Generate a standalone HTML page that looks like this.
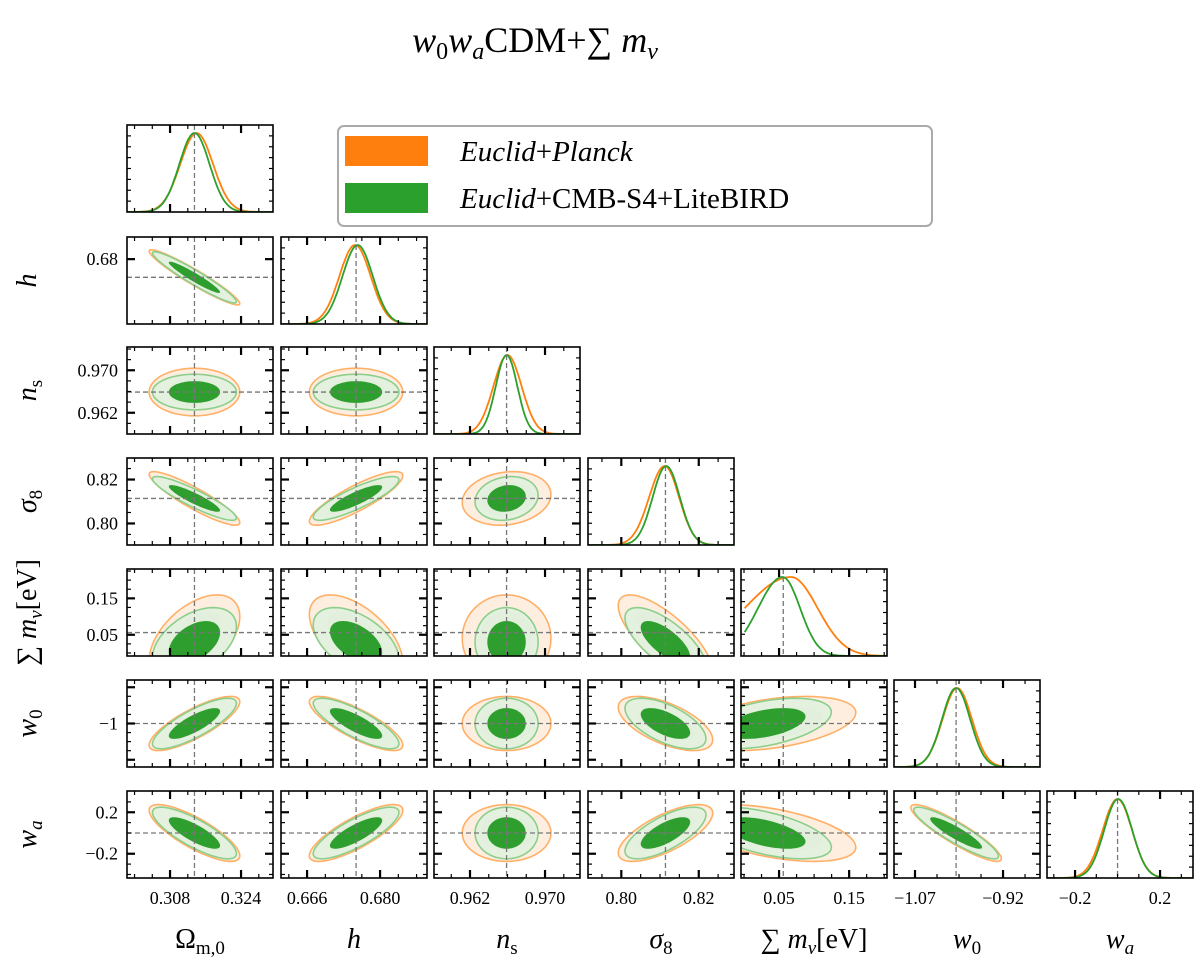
<!DOCTYPE html>
<html><head><meta charset="utf-8">
<style>
body{margin:0;background:#fff;}
svg{display:block;font-family:"Liberation Serif",serif;}
</style></head>
<body>
<svg id="chart" width="1200" height="970" viewBox="0 0 1200 970" xmlns="http://www.w3.org/2000/svg">
<defs></defs>
<text x="535" y="52" font-size="36" text-anchor="middle"><tspan font-style="italic">w</tspan><tspan font-size="24" dy="7">0</tspan><tspan font-style="italic" dy="-7">w</tspan><tspan font-size="24" font-style="italic" dy="7">a</tspan><tspan dy="-7">CDM+∑ </tspan><tspan font-style="italic">m</tspan><tspan font-size="24" font-style="italic" dy="7">ν</tspan></text>
<g>
<rect x="338" y="126" width="594" height="100" rx="6" fill="#fff" stroke="#aaa" stroke-width="2"/>
<rect x="345" y="136" width="83" height="30" fill="#ff7f0e"/>
<rect x="345" y="183" width="83" height="30" fill="#2ca02c"/>
<text x="460" y="161" font-size="29"><tspan font-style="italic">Euclid</tspan>+<tspan font-style="italic">Planck</tspan></text>
<text x="460" y="208" font-size="29"><tspan font-style="italic">Euclid</tspan>+CMB-S4+LiteBIRD</text>
</g>
</svg>
<script>
const paramNames = ["Om","h","ns","s8","mnu","w0","wa"];
const xLo = [0.2983,0.6610,0.95816,0.7914,-0.0043,-1.1058,-0.332];
const xHi = [0.3312,0.6890,0.97373,0.8291,0.204,-0.857,0.355];
const yLo = [0,0.6636,0.9580,0.7902,-0.0083,-1.12,-0.434];
const yHi = [1,0.6856,0.97438,0.8298,0.2306,-0.88,0.405];
const fiducial = [0.3135,0.6754,0.9659,0.8114,0.056,-1.0,0.0];
// 1D marginals
const mean1G = [0.3135,0.6757,0.9659,0.8116,0.055,-1.0,0.003];
const mean1O = [0.3140,0.6752,0.9660,0.8112,0.067,-0.998,0.0];
const sig1GLeft = [0.0034,0.0029,0.00115,0.0035,0.035,0.024,0.066];
const sig1GRight = [0.0034,0.0029,0.00115,0.0035,0.025,0.024,0.066];
const sig1OLeft = [0.0037,0.0030,0.0015,0.0040,0.066,0.025,0.070];
const sig1ORight = [0.0037,0.0030,0.0015,0.0037,0.038,0.025,0.068];
// 2D contours
const mean2G = [0.3135,0.6754,0.9659,0.8114,0.030,-1.0,0.0];
const mean2O = [0.3135,0.6754,0.9659,0.8114,0.040,-1.0,0.0];
const sig2xG = [0.0038,0.0033,0.00135,0.0042,0.038,0.029,0.075];
const sig2xO = [0.0041,0.0036,0.0019,0.0049,0.048,0.031,0.080];
const sig2yG = [0.0038,0.0026,0.00135,0.0040,0.038,0.028,0.100];
const sig2yO = [0.0041,0.0028,0.0018,0.0049,0.048,0.030,0.110];
const corrGreen = [
 [1,-0.95,0,-0.9,0.45,0.8,-0.8],
 [-0.95,1,0,0.85,-0.5,-0.8,0.8],
 [0,0,1,0.15,0,0,0],
 [-0.9,0.85,0.15,1,-0.7,-0.6,0.7],
 [0.45,-0.5,0,-0.7,1,0.45,-0.55],
 [0.8,-0.8,0,-0.6,0.45,1,-0.9],
 [-0.8,0.8,0,0.7,-0.55,-0.9,1]];
const corrOrange = [
 [1,-0.95,0,-0.9,0.5,0.8,-0.8],
 [-0.95,1,0,0.85,-0.55,-0.8,0.8],
 [0,0,1,0.15,0,0,0],
 [-0.9,0.85,0.15,1,-0.75,-0.6,0.7],
 [0.5,-0.55,0,-0.75,1,0.4,-0.5],
 [0.8,-0.8,0,-0.6,0.4,1,-0.9],
 [-0.8,0.8,0,0.7,-0.5,-0.9,1]];
const xTickVals = [[0.308,0.324],[0.666,0.680],[0.962,0.970],[0.80,0.82],[0.05,0.15],[-1.07,-0.92],[-0.2,0.2]];
const xTickLabels = [["0.308","0.324"],["0.666","0.680"],["0.962","0.970"],["0.80","0.82"],["0.05","0.15"],["−1.07","−0.92"],["−0.2","0.2"]];
const yTickVals = [[],[0.68],[0.970,0.962],[0.82,0.80],[0.15,0.05],[-1],[0.2,-0.2]];
const yTickLabels = [[],["0.68"],["0.970","0.962"],["0.82","0.80"],["0.15","0.05"],["−1"],["0.2","−0.2"]];

const colX=[127,281,434,588,741,894,1047], rowY=[125,237,347,458,569,680,791], PW=146, PH=87;
const NS="http://www.w3.org/2000/svg";
const svg=document.getElementById('chart');
const defs=svg.querySelector('defs');
function mk(tag,attrs,parent){const e=document.createElementNS(NS,tag);for(const k in attrs)e.setAttribute(k,attrs[k]);(parent||svg).appendChild(e);return e;}
function xs(p,v,c){return colX[c]+(v-xLo[p])/(xHi[p]-xLo[p])*PW;}
function ys(p,v,r){return rowY[r]+PH-(v-yLo[p])/(yHi[p]-yLo[p])*PH;}

function ticks(g,i,j){
  const x0=colX[j],y0=rowY[i];
  const xv=xTickVals[j];const st=xv[1]-xv[0];const sub=st/4;
  for(let v=xv[0]-8*sub;v<=xv[1]+8*sub;v+=sub){
    const x=xs(j,v,j); if(x<x0+1||x>x0+PW-1)continue;
    const q=(v-xv[0])/st; const maj=Math.abs(q-Math.round(q))<1e-6;
    const L=maj?8:4,w=maj?2.2:1.2;
    mk('line',{x1:x,x2:x,y1:y0,y2:y0+L,stroke:'#000','stroke-width':w},g);
    mk('line',{x1:x,x2:x,y1:y0+PH,y2:y0+PH-L,stroke:'#000','stroke-width':w},g);
  }
  if(i===j||yTickVals[i].length===0){
    for(let k=1;k<8;k++){const y=y0+k*PH/8;
      mk('line',{x1:x0,x2:x0+4,y1:y,y2:y,stroke:'#000','stroke-width':1.2},g);
      mk('line',{x1:x0+PW,x2:x0+PW-4,y1:y,y2:y,stroke:'#000','stroke-width':1.2},g);}
    return;
  }
  const yv=yTickVals[i];
  let yst = yv.length>1? Math.abs(yv[0]-yv[1]) : 0.1;
  const ysub=yst/4; const base=yv[0];
  for(let v=base-12*ysub;v<=base+12*ysub;v+=ysub){
    const y=ys(i,v,i); if(y<y0+1||y>y0+PH-1)continue;
    const q=Math.abs((v-base)/yst); const maj=Math.abs(q-Math.round(q))<1e-6;
    const L=maj?8:4,w=maj?2.2:1.2;
    mk('line',{x1:x0,x2:x0+L,y1:y,y2:y,stroke:'#000','stroke-width':w},g);
    mk('line',{x1:x0+PW,x2:x0+PW-L,y1:y,y2:y,stroke:'#000','stroke-width':w},g);
  }
}

function ellipse(g,i,j,mx,my,sx,sy,rho,r,fill,stroke){
  const cx=xs(j,mx,j),cy=ys(i,my,i);
  const Sx=sx/(xHi[j]-xLo[j])*PW, Sy=sy/(yHi[i]-yLo[i])*PH;
  const rp=-rho; const q=Math.sqrt(1-rho*rho);
  let d='';
  for(let k=0;k<=72;k++){const t=k/72*2*Math.PI;
    const x=cx+r*Sx*Math.cos(t), y=cy+r*(rp*Sy*Math.cos(t)+Sy*q*Math.sin(t));
    d+=(k?'L':'M')+x.toFixed(1)+','+y.toFixed(1);}
  return mk('path',{d:d+'Z',fill:fill,stroke:stroke,'stroke-width':1.6},g);
}

for(let i=0;i<7;i++){
  for(let j=0;j<=i;j++){
    const g=mk('g',{});
    
    
    const cid='clip'+i+'_'+j;
    const cp=mk('clipPath',{id:cid},defs);
    mk('rect',{x:colX[j],y:rowY[i],width:PW,height:PH},cp);
    const inner=mk('g',{'clip-path':'url(#'+cid+')'},g);
    if(i===j){
      const xf=xs(j,fiducial[j],j);
      const curves=[[mean1O[j],sig1OLeft[j],sig1ORight[j],'#ff7f0e','pdf-planck'],[mean1G[j],sig1GLeft[j],sig1GRight[j],'#2ca02c','pdf-cmbs4']];
      for(const [m,sL,sR,col,nm] of curves){
        let d='';
        for(let k=0;k<=120;k++){const v=xLo[j]+(xHi[j]-xLo[j])*k/120;
          if(j===4&&v<0)continue;
          const s=v<m?sL:sR;
          const f=Math.exp(-0.5*((v-m)/s)**2);
          const x=xs(j,v,j),y=rowY[i]+PH-f*(PH-8);
          d+=(d?'L':'M')+x.toFixed(1)+','+y.toFixed(1);}
        const p=mk('path',{d:d,fill:'none',stroke:col,'stroke-width':1.8},inner);
        
        
      }
      mk('line',{x1:xf,x2:xf,y1:rowY[i],y2:rowY[i]+PH,stroke:'#777','stroke-width':1.3,'stroke-dasharray':'5,3'},inner);
    } else {
      const ro=corrOrange[i][j], rg=corrGreen[i][j];
      let e;
      e=ellipse(inner,i,j,mean2O[j],mean2O[i],sig2xO[j],sig2yO[i],ro,2.49,'#fdeee0','#ffb066');
      
      
      e=ellipse(inner,i,j,mean2O[j],mean2O[i],sig2xO[j],sig2yO[i],ro,1.52,'#f1e6d2','none');
      
      
      e=ellipse(inner,i,j,mean2G[j],mean2G[i],sig2xG[j],sig2yG[i],rg,2.49,'rgba(222,241,222,0.8)','#8ccf8c');
      
      
      e=ellipse(inner,i,j,mean2G[j],mean2G[i],sig2xG[j],sig2yG[i],rg,1.52,'#2e9f2e','none');
      
      
      const xf=xs(j,fiducial[j],j), yf=ys(i,fiducial[i],i);
      mk('line',{x1:xf,x2:xf,y1:rowY[i],y2:rowY[i]+PH,stroke:'#777','stroke-width':1.3,'stroke-dasharray':'5,3'},inner);
      mk('line',{x1:colX[j],x2:colX[j]+PW,y1:yf,y2:yf,stroke:'#777','stroke-width':1.3,'stroke-dasharray':'5,3'},inner);
    }
    ticks(g,i,j);
    mk('rect',{x:colX[j],y:rowY[i],width:PW,height:PH,fill:'none',stroke:'#000','stroke-width':1.6},g);
    if(i===6){
      xTickVals[j].forEach((v,k)=>{
        const t=mk('text',{x:xs(j,v,j),y:rowY[6]+PH+26,'font-size':18,'text-anchor':'middle'});
        
        
        t.textContent=xTickLabels[j][k];
      });
    }
    if(j===0&&i>0){
      yTickVals[i].forEach((v,k)=>{
        const t=mk('text',{x:118,y:ys(i,v,i)+6,'font-size':18,'text-anchor':'end'});
        
        
        t.textContent=yTickLabels[i][k];
      });
    }
  }
}
const xTitles=['Ω<tspan font-size="19" dy="6">m,0</tspan>','<tspan font-style="italic">h</tspan>','<tspan font-style="italic">n</tspan><tspan font-size="19" dy="6">s</tspan>','<tspan font-style="italic">σ</tspan><tspan font-size="19" dy="6">8</tspan>','∑ <tspan font-style="italic">m</tspan><tspan font-size="19" font-style="italic" dy="6">ν</tspan><tspan dy="-6">[eV]</tspan>','<tspan font-style="italic">w</tspan><tspan font-size="19" dy="6">0</tspan>','<tspan font-style="italic">w</tspan><tspan font-size="19" font-style="italic" dy="6">a</tspan>'];
xTitles.forEach((s,k)=>{
  const t=mk('text',{x:colX[k]+PW/2,y:948,'font-size':28,'text-anchor':'middle'});
  
  
  t.innerHTML=s;
  if(k>0){
    const yt=mk('text',{x:0,y:0,'font-size':28,'text-anchor':'middle',transform:'translate(36,'+(rowY[k]+PH/2)+') rotate(-90)'});
    
    
    yt.innerHTML=s;
  }
});
</script>
</body></html>
